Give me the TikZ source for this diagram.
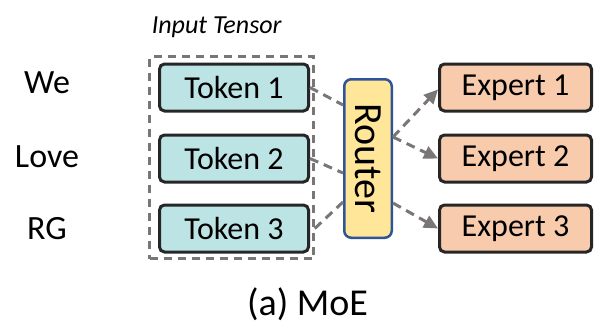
\documentclass[tikz,border=0pt]{standalone}
\usepackage{fontspec}
\setmainfont{Carlito}
\usetikzlibrary{arrows.meta}
\definecolor{tokfill}{HTML}{BDE4E4}
\definecolor{expfill}{HTML}{F8CBAD}
\definecolor{routfill}{HTML}{FFE699}
\definecolor{routline}{HTML}{2F5597}
\definecolor{dashgray}{HTML}{7A7676}
\begin{document}
\begin{tikzpicture}[x=1pt,y=-1pt,>={Triangle[length=14pt,width=13pt]}]
        \tikzstyle{token}=[rectangle,rounded corners=5pt,line width=3pt,draw=black!85,fill=tokfill,minimum width=149pt,minimum height=47pt,inner sep=0pt,font=\fontsize{32}{36}\selectfont]
        \tikzstyle{expert}=[token,fill=expfill,minimum width=152pt]
        \tikzstyle{router}=[rectangle,rounded corners=7pt,line width=2.5pt,draw=routline,fill=routfill,minimum width=47.5pt,minimum height=158.5pt,inner sep=0pt]
        \tikzstyle{tensor}=[rectangle,draw=dashgray,line width=2.5pt,dash pattern=on 8pt off 6pt,minimum width=164pt,minimum height=202pt]
        \tikzstyle{word}=[font=\fontsize{34}{38}\selectfont]
        \tikzstyle{link}=[draw=dashgray,line width=3pt,dash pattern=on 9pt off 6pt]
       \useasboundingbox (0,0) rectangle (594,325);
         \node [tensor] (box) at (231.5,157.5) {};
         \node [anchor=base west,font=\itshape\fontsize{26}{30}\selectfont] (title) at ([yshift=22pt]box.north west) {Input Tensor};
         \node [word] (w1) at (47,82.5) {We};
         \node [word] (w2) at (47,157) {Love};
         \node [word] (w3) at (47,228.5) {RG};
         \node [token] (t1) at (234,87.5) {Token 1};
         \node [token] (t2) at (234,158.5) {Token 2};
         \node [token] (t3) at (234,228.5) {Token 3};
         \node [router] (router) at (368,158.5) {\rotatebox{-90}{\fontsize{40}{44}\selectfont Router}};
         \node [expert] (e1) at (515.5,87.5) {Expert 1};
         \node [expert] (e2) at (515.5,158.5) {Expert 2};
         \node [expert] (e3) at (515.5,228.5) {Expert 3};
         \path[link] (t1.east) -- ([yshift=53.5pt]router.west);
         \path[link] (t2.east) -- ([yshift=-14.5pt]router.west);
         \path[link] (t3 -| box.east) -- ([yshift=-43.5pt]router.west);
         \path[link,->] ([yshift=21.5pt]router.east) -- ([yshift=-2pt]e1.west);
         \path[link,->] ([yshift=21.5pt]router.east) -- (e2.west);
         \path[link,->] ([yshift=-44.5pt]router.east) -- (e3.west);
         \node [anchor=base,font=\fontsize{38}{42}\selectfont] (cap) at (307.5,315) {(a) MoE};
      \end{tikzpicture}
\end{document}
